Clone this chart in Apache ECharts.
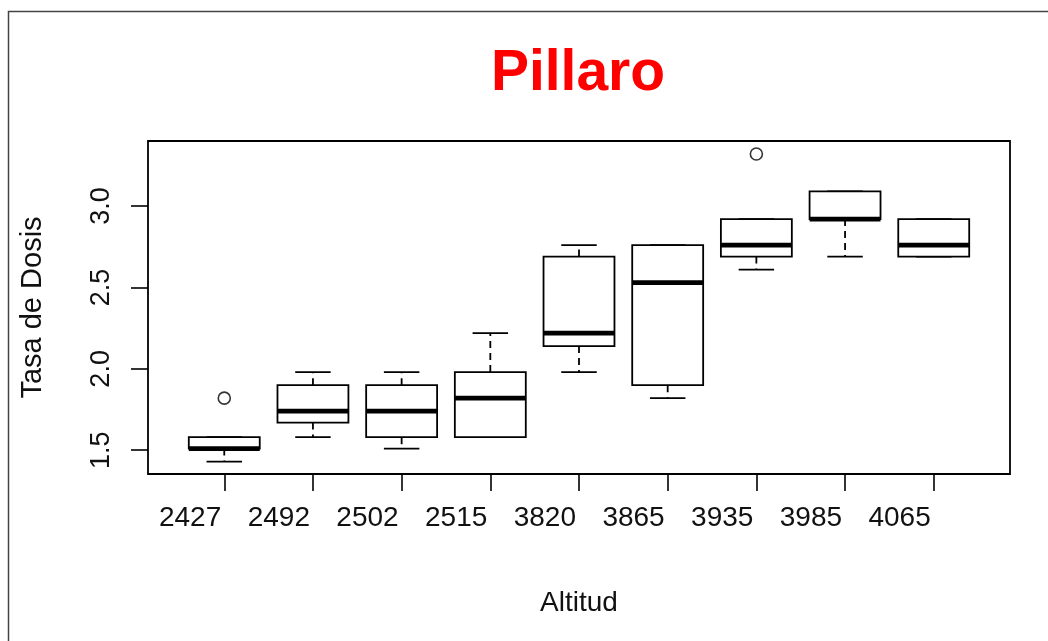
<!DOCTYPE html>
<html>
<head>
<meta charset="utf-8">
<script src="https://cdn.jsdelivr.net/npm/echarts@6/dist/echarts.min.js"></script>
<style>
html,body{margin:0;padding:0;background:#fff;}
#c{width:1048px;height:641px;}
</style>
</head>
<body>
<div id="c"></div>
<script>
// ---- data ----
const categories = ['2427','2492','2502','2515','3820','3865','3935','3985','4065'];
const lowerWhisker = [1.43, 1.58, 1.51, 1.58, 1.98, 1.82, 2.61, 2.69, 2.69];
const q1Values     = [1.51, 1.67, 1.58, 1.58, 2.14, 1.90, 2.69, 2.92, 2.69];
const medianValues = [1.51, 1.74, 1.74, 1.82, 2.22, 2.53, 2.76, 2.92, 2.76];
const q3Values     = [1.58, 1.90, 1.90, 1.98, 2.69, 2.76, 2.92, 3.09, 2.92];
const upperWhisker = [1.58, 1.98, 1.98, 2.22, 2.76, 2.76, 2.92, 3.09, 2.92];
const outlierCategory = ['2427', '3935'];
const outlierValues   = [1.82, 3.32];
const yTicks = [1.5, 2.0, 2.5, 3.0];
const titleText = 'Pillaro';
const xName = 'Altitud';
const yName = 'Tasa de Dosis';

// ---- build series data ----
const positions = categories.map((c, i) => i + 1);
const boxData = categories.map((c, i) => [positions[i], lowerWhisker[i], q1Values[i], medianValues[i], q3Values[i], upperWhisker[i]]);
const outlierData = outlierCategory.map((c, i) => [categories.indexOf(c) + 1, outlierValues[i]]);

const FONT = "'Liberation Sans', Arial, sans-serif";
const chart = echarts.init(document.getElementById('c'), null, {renderer: 'canvas'});

function renderBox(params, api) {
  const x = api.value(0);
  const lo = api.coord([x, api.value(1)]);
  const b1 = api.coord([x, api.value(2)]);
  const md = api.coord([x, api.value(3)]);
  const b3 = api.coord([x, api.value(4)]);
  const hi = api.coord([x, api.value(5)]);
  const w = api.size([0.8, 0])[0];
  const cap = w / 2;
  const cx = lo[0];
  const black = '#000';
  const lw = 1.8;
  const children = [];
  // whiskers (dashed)
  if (hi[1] < b3[1] - 0.5) children.push({type:'line', shape:{x1:cx,y1:b3[1],x2:cx,y2:hi[1]}, style:{stroke:black,lineWidth:lw,lineDash:[7,5]}});
  if (lo[1] > b1[1] + 0.5) children.push({type:'line', shape:{x1:cx,y1:b1[1],x2:cx,y2:lo[1]}, style:{stroke:black,lineWidth:lw,lineDash:[7,5]}});
  // staples
  children.push({type:'line', shape:{x1:cx-cap/2,y1:hi[1],x2:cx+cap/2,y2:hi[1]}, style:{stroke:black,lineWidth:lw}});
  children.push({type:'line', shape:{x1:cx-cap/2,y1:lo[1],x2:cx+cap/2,y2:lo[1]}, style:{stroke:black,lineWidth:lw}});
  // box
  children.push({type:'rect', shape:{x:cx-w/2,y:b3[1],width:w,height:b1[1]-b3[1]}, style:{stroke:black,fill:'#fff',lineWidth:lw}});
  // median
  children.push({type:'line', shape:{x1:cx-w/2,y1:md[1],x2:cx+w/2,y2:md[1]}, style:{stroke:black,lineWidth:4.8,lineCap:'butt'}});
  return {type:'group', children};
}

const option = {
  backgroundColor: '#fff',
  animation: false,
  title: {
    text: titleText,
    left: 578,
    top: 46,
    padding: 0,
    textAlign: 'center',
    textStyle: {color: '#ff0000', fontSize: 57, fontWeight: 'bold', fontFamily: FONT}
  },
  grid: {
    left: 148, top: 141, width: 862, height: 333,
    show: true, borderColor: '#000', borderWidth: 1.8, backgroundColor: 'transparent'
  },
  xAxis: {
    type: 'value',
    min: 0.14, max: 9.86,
    splitLine: {show: false},
    axisLine: {show: false},
    axisTick: {show: true, customValues: positions, length: 17, lineStyle: {color: '#000', width: 1.6}},
    axisLabel: {
      customValues: positions,
      formatter: v => categories[Math.round(v) - 1] || '',
      align: 'right',
      padding: [0, 3, 0, 0],
      margin: 30,
      color: '#111', fontSize: 28, fontFamily: FONT
    },
    name: xName,
    nameLocation: 'middle',
    nameGap: 115,
    nameTextStyle: {color: '#111', fontSize: 28, fontFamily: FONT}
  },
  yAxis: {
    type: 'value',
    min: 1.354, max: 3.40,
    splitLine: {show: false},
    axisLine: {show: false},
    axisTick: {show: true, customValues: yTicks, length: 17, lineStyle: {color: '#000', width: 1.6}},
    axisLabel: {
      customValues: yTicks,
      formatter: v => v.toFixed(1),
      rotate: 90,
      margin: 33,
      color: '#111', fontSize: 27, fontFamily: FONT
    },
    name: yName,
    nameLocation: 'middle',
    nameRotate: 90,
    nameGap: 101,
    nameTextStyle: {color: '#111', fontSize: 29, fontFamily: FONT}
  },
  graphic: [{
    type: 'polyline',
    shape: {points: [[8.5, 641], [8.5, 11.5], [1048, 11.5]]},
    style: {stroke: '#444', lineWidth: 1.5, fill: null},
    silent: true
  }],
  series: [
    {
      type: 'custom',
      renderItem: renderBox,
      data: boxData,
      encode: {x: 0, y: [1, 2, 3, 4, 5]},
      clip: false
    },
    {
      type: 'scatter',
      data: outlierData,
      symbol: 'circle',
      symbolSize: 12,
      itemStyle: {color: '#fff', borderColor: '#000', borderWidth: 1.6}
    }
  ]
};
chart.setOption(option);
</script>
</body>
</html>
